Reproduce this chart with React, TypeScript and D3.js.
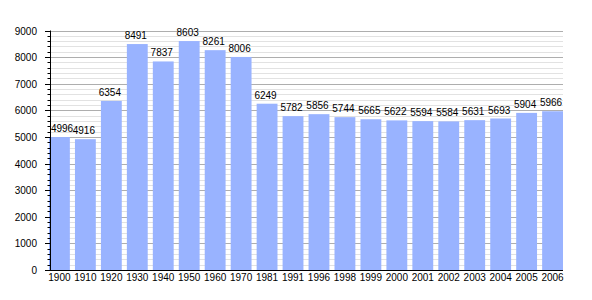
import React from "react";
import * as d3 from "d3";

const years = ["1900","1910","1920","1930","1940","1950","1960","1970","1981","1991","1996","1998","1999","2000","2001","2002","2003","2004","2005","2006"];
const population = [4996,4916,6354,8491,7837,8603,8261,8006,6249,5782,5856,5744,5665,5622,5594,5584,5631,5693,5904,5966];
const majorTicks = [0,1000,2000,3000,4000,5000,6000,7000,8000,9000];

export default function App() {
  const W = 592, H = 300;
  const left = 50, right = 563, top = 30.5, bottom = 270;
  const y = d3.scaleLinear().domain([0, 9000]).range([bottom, top]);
  const gap = 5.1;
  const barStart = 49;
  const n = years.length;
  const slot = (right - barStart + gap) / n;
  const bw = slot - gap;
  const x = (i: number) => barStart + i * slot;
  const minor = d3.range(0, 9001, 200).filter(v => v % 1000 !== 0);
  const font = "'Liberation Sans', Arial, Helvetica, sans-serif";
  const py = (v: number) => Math.round(y(v)) + 0.5;
  const labelX = (i: number) => Math.max(left + 1 + 11, x(i) + bw / 2 - 1.5);
  return (
    <svg width={W} height={H} style={{ position: "absolute", left: 0, top: 0 }} fontFamily={font}>
      <rect width={W} height={H} fill="#fff" />
      {minor.map(v => (
        <line key={"m" + v} x1={left} x2={right} y1={py(v)} y2={py(v)} stroke="#e2e2e2" strokeWidth={1} />
      ))}
      {majorTicks.filter(v => v > 0).map(v => (
        <line key={"g" + v} x1={left} x2={right} y1={py(v)} y2={py(v)} stroke="#aeaeae" strokeWidth={1} />
      ))}
      {population.map((v, i) => (
        <rect key={"b" + i} x={x(i)} y={y(v)} width={bw} height={bottom - y(v)} fill="#99b3ff" />
      ))}
      {population.map((v, i) => (
        <text key={"l" + i} x={labelX(i)} y={y(v) - 5} textAnchor="middle" fontSize={10} fill="#000">{v}</text>
      ))}
      {minor.map(v => (
        <line key={"mt" + v} x1={47.5} x2={left} y1={py(v)} y2={py(v)} stroke="#000" strokeWidth={1} />
      ))}
      {majorTicks.map(v => (
        <g key={"t" + v}>
          <line x1={45} x2={left} y1={py(v)} y2={py(v)} stroke="#000" strokeWidth={1} />
          <text x={37} y={y(v) + 4} textAnchor="end" fontSize={10} fill="#000">{v}</text>
        </g>
      ))}
      <line x1={50.5} x2={50.5} y1={top} y2={bottom + 1} stroke="#000" strokeWidth={1} />
      <line x1={left} x2={right} y1={bottom + 0.5} y2={bottom + 0.5} stroke="#000" strokeWidth={1} />
      {years.map((t, i) => (
        <text key={"x" + i} x={x(i) + bw / 2} y={281} textAnchor="middle" fontSize={10} fill="#000">{t}</text>
      ))}
    </svg>
  );
}
